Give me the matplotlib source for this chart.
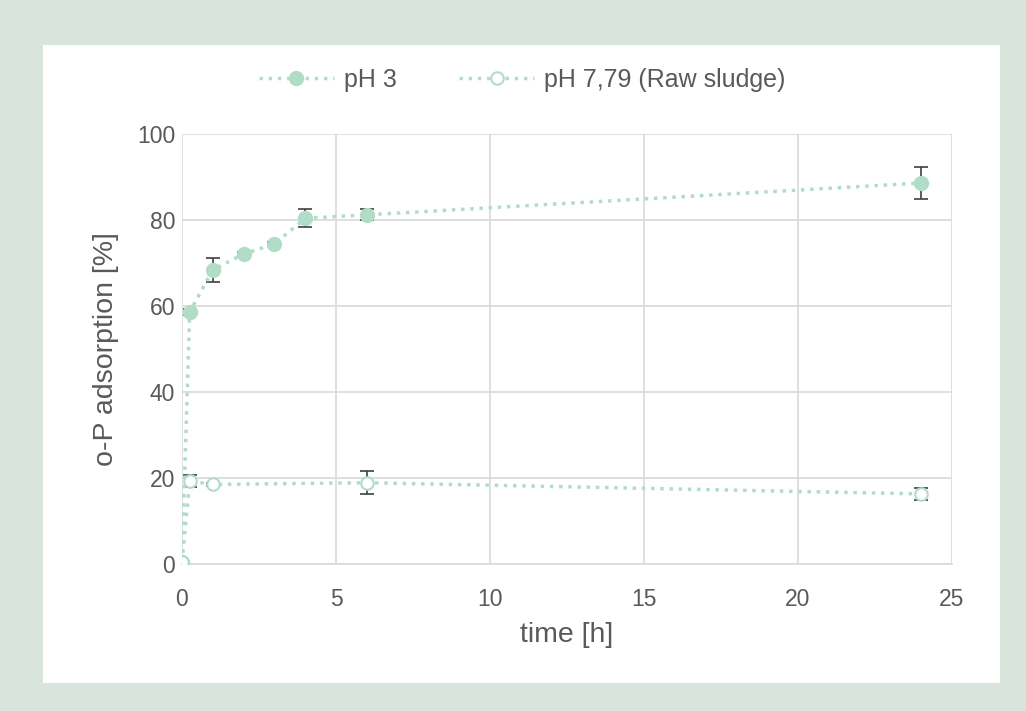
import numpy as np
import matplotlib.pyplot as plt
from matplotlib.patches import Rectangle

# data
t_ph3 = [0, 0.25, 1, 2, 3, 4, 6, 24]
ads_ph3 = [0.5, 58.6, 68.4, 72.1, 74.4, 80.4, 81.2, 88.6]
err_ph3 = [0, 0.8, 2.8, 0.5, 0.5, 2.1, 1.3, 3.8]

t_raw = [0, 0.25, 1, 6, 24]
ads_raw = [0.5, 19.3, 18.5, 18.9, 16.3]
err_raw = [0, 1.3, 0.4, 2.7, 1.3]

col = '#b1ddc8'
txt = '#595959'
plt.rcParams['font.family'] = ['Liberation Sans', 'DejaVu Sans']

fig = plt.figure(figsize=(10.26, 7.11), dpi=100)
fig.patch.set_facecolor('#d9e4dd')
fig.patches.append(Rectangle((43/1026, 1-683/711), (1000-43)/1026, (683-45)/711,
                             transform=fig.transFigure, facecolor='white',
                             edgecolor='none', zorder=-10))

ax = fig.add_axes([182/1026, 1-564/711, (952-182)/1026, (564-134)/711])
ax.set_facecolor('white')

ax.errorbar(t_ph3, ads_ph3, yerr=err_ph3, fmt='none', ecolor='#404040',
            elinewidth=1.2, capsize=5, capthick=1.2, zorder=2)
ax.errorbar(t_raw, ads_raw, yerr=err_raw, fmt='none', ecolor='#404040',
            elinewidth=1.2, capsize=5, capthick=1.2, zorder=2)
ax.plot(t_ph3, ads_ph3, linestyle=':', linewidth=2.5, color=col, marker='o',
        markersize=10, markerfacecolor=col, markeredgecolor=col,
        label='pH 3', zorder=3)
ax.plot(t_raw, ads_raw, linestyle=':', linewidth=2.5, color=col, marker='o',
        markersize=9, markerfacecolor='white', markeredgecolor=col,
        markeredgewidth=1.5, label='pH 7,79 (Raw sludge)', zorder=3)

ax.set_xlim(0, 25)
ax.set_ylim(0, 100)
ax.set_xticks(np.arange(0, 26, 5))
ax.set_yticks(np.arange(0, 101, 20))
ax.grid(True, color='#d9d9d9', linewidth=1.2)
ax.set_axisbelow(True)
for s in ['top', 'right', 'left']:
    ax.spines[s].set_visible(False)
ax.spines['bottom'].set_color('#d9d9d9')
ax.spines['bottom'].set_linewidth(1.2)
ax.tick_params(length=0, labelsize=16.5, labelcolor=txt)
ax.tick_params(axis='x', pad=17)
ax.tick_params(axis='y', pad=5)
ax.set_xlabel('time [h]', fontsize=20.5, color=txt, labelpad=8)
ax.set_ylabel('o-P adsorption [%]', fontsize=20.5, color=txt, labelpad=13)

fig.legend(*ax.get_legend_handles_labels(), loc='center',
           bbox_to_anchor=(522/1026, 1-80/711), ncol=2, frameon=False,
           fontsize=18, labelcolor=txt, handlelength=3.0, handletextpad=0.4,
           columnspacing=2.5)

fig.savefig('out.png', dpi=100, facecolor=fig.get_facecolor())
